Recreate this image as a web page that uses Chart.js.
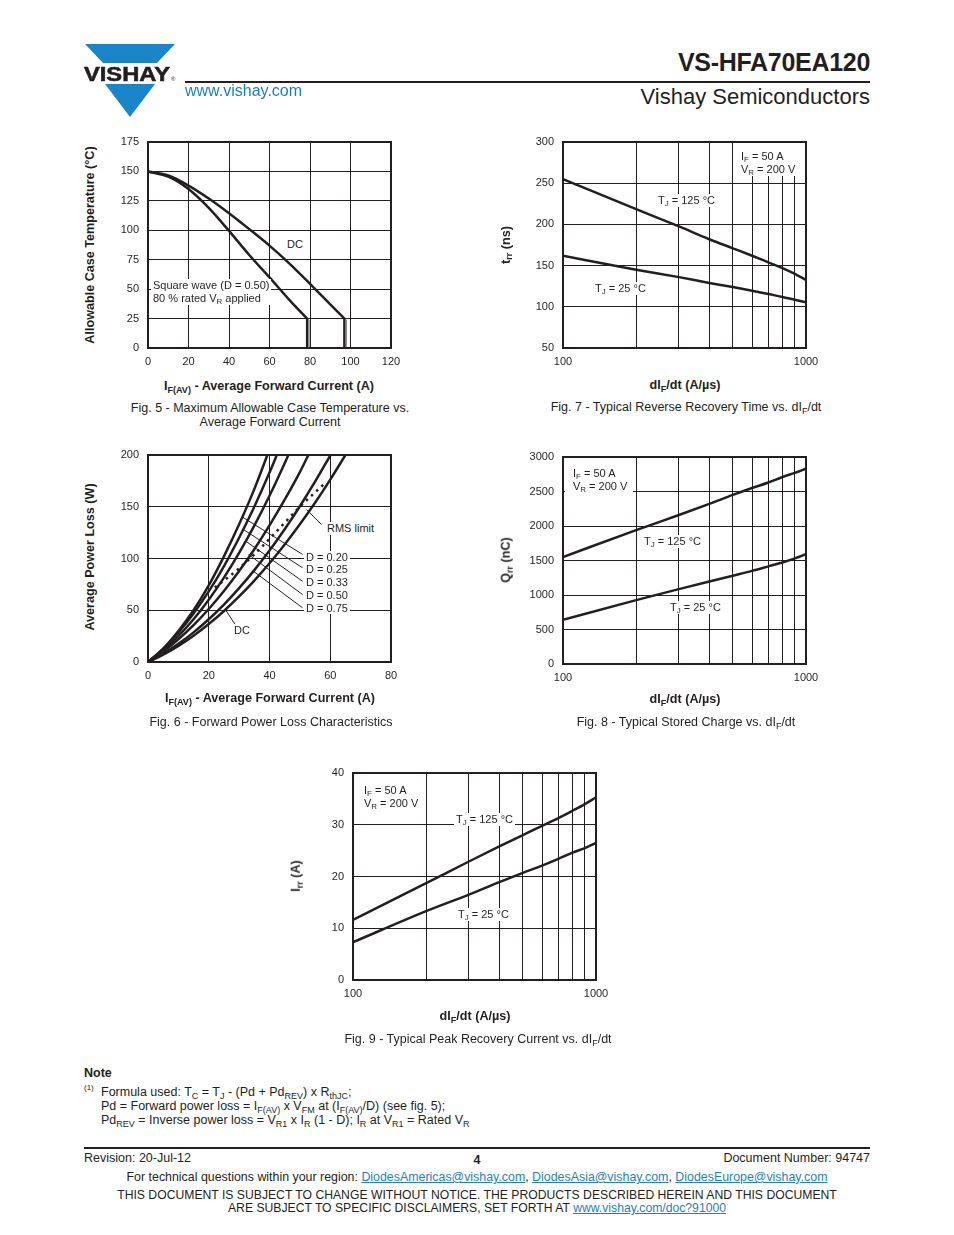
<!DOCTYPE html>
<html><head><meta charset="utf-8">
<script src="https://cdn.jsdelivr.net/npm/chart.js@4.4.1/dist/chart.umd.min.js"></script>
<style>
html,body{margin:0;padding:0;background:#fff;}
body{width:954px;height:1235px;position:relative;overflow:hidden;font-family:"Liberation Sans",Arial,Helvetica,sans-serif;color:#231f20;}
canvas{position:absolute;}
.a{position:absolute;white-space:nowrap;line-height:1;z-index:2;}
.c{transform:translateX(-50%);}
.r{transform:translateX(-100%);}
.lbl{position:absolute;white-space:nowrap;font-size:11px;line-height:13px;background:#fff;padding:0 2px;z-index:2;}
.box{position:absolute;white-space:nowrap;font-size:11px;line-height:13px;background:#fff;z-index:2;box-sizing:border-box;}
sub{font-size:0.72em;vertical-align:-0.28em;line-height:0;}
sup{font-size:0.7em;vertical-align:0.5em;line-height:0;}
.yt{position:absolute;font-weight:bold;font-size:12.6px;line-height:1;transform:translate(-50%,-50%) rotate(-90deg);white-space:nowrap;z-index:2;}
.xt{font-weight:bold;font-size:12.6px;}
.cap{font-size:12.5px;}
a.lk{color:#1f7fc4;text-decoration:underline;}
</style>
</head><body>
<canvas id="c5"></canvas><canvas id="c6"></canvas><canvas id="c7"></canvas><canvas id="c8"></canvas><canvas id="c9"></canvas>

<!-- Header -->
<svg style="position:absolute;left:0;top:0;z-index:2" width="200" height="125">
  <polygon points="85,44 175,44 157,63 103,63" fill="#1a86c8"/>
  <polygon points="105,84 155,84 130,117" fill="#1a86c8"/>
  <text x="84" y="81" font-family="Liberation Sans, Arial, sans-serif" font-weight="bold" font-size="20" fill="#231f20" stroke="#231f20" stroke-width="0.6" textLength="86" lengthAdjust="spacingAndGlyphs">VISHAY</text>
  <text x="171" y="81" font-family="Liberation Sans, Arial, sans-serif" font-size="6" fill="#231f20">®</text>
</svg>
<div class="a" style="left:185px;top:83px;font-size:16px;color:#1a7fc2;">www.vishay.com</div>
<div style="position:absolute;left:185px;top:81px;width:685px;height:2px;background:#231f20;"></div>
<div class="a r" style="left:870px;top:50px;font-size:25px;font-weight:bold;letter-spacing:-0.3px;">VS-HFA70EA120</div>
<div class="a r" style="left:870px;top:86px;font-size:22px;">Vishay Semiconductors</div>

<!-- Fig 5 texts -->
<div class="yt" style="left:90px;top:245px;">Allowable Case Temperature (°C)</div>
<div class="a c xt" style="left:269px;top:380px;">I<sub>F(AV)</sub> - Average Forward Current (A)</div>
<div class="a c cap" style="left:270px;top:401px;text-align:center;line-height:14px;">Fig. 5 - Maximum Allowable Case Temperature vs.<br>Average Forward Current</div>
<div class="lbl" style="left:285px;top:237.5px;">DC</div>
<div class="lbl" style="left:151px;top:278.5px;">Square wave (D = 0.50)<br>80 % rated V<sub>R</sub> applied</div>

<!-- Fig 6 texts -->
<div class="yt" style="left:90px;top:557px;">Average Power Loss (W)</div>
<div class="a c xt" style="left:270px;top:692px;">I<sub>F(AV)</sub> - Average Forward Current (A)</div>
<div class="a c cap" style="left:271px;top:716px;">Fig. 6 - Forward Power Loss Characteristics</div>
<div class="lbl" style="left:325px;top:521.5px;">RMS limit</div>
<div class="lbl" style="left:304px;top:550.5px;line-height:12.75px;">D = 0.20<br>D = 0.25<br>D = 0.33<br>D = 0.50<br>D = 0.75</div>
<div class="lbl" style="left:232px;top:623.5px;">DC</div>

<!-- Fig 7 texts -->
<div class="yt" style="left:506px;top:245px;">t<sub>rr</sub> (ns)</div>
<div class="a c xt" style="left:685px;top:379px;">dI<sub>F</sub>/dt (A/µs)</div>
<div class="a c cap" style="left:686px;top:401px;">Fig. 7 - Typical Reverse Recovery Time vs. dI<sub>F</sub>/dt</div>
<div class="box" style="left:735px;top:143px;width:70px;height:33px;padding:6.5px 0 0 6px;">I<sub>F</sub> = 50 A<br>V<sub>R</sub> = 200 V</div>
<div class="lbl" style="left:656px;top:193.5px;">T<sub>J</sub> = 125 °C</div>
<div class="lbl" style="left:593px;top:281.5px;">T<sub>J</sub> = 25 °C</div>

<!-- Fig 8 texts -->
<div class="yt" style="left:506px;top:560px;">Q<sub>rr</sub> (nC)</div>
<div class="a c xt" style="left:685px;top:693px;">dI<sub>F</sub>/dt (A/µs)</div>
<div class="a c cap" style="left:686px;top:716px;">Fig. 8 - Typical Stored Charge vs. dI<sub>F</sub>/dt</div>
<div class="box" style="left:565px;top:459px;width:68px;height:34px;padding:7.5px 0 0 8px;">I<sub>F</sub> = 50 A<br>V<sub>R</sub> = 200 V</div>
<div class="lbl" style="left:642px;top:534.5px;">T<sub>J</sub> = 125 °C</div>
<div class="lbl" style="left:668px;top:600.5px;">T<sub>J</sub> = 25 °C</div>

<!-- Fig 9 texts -->
<div class="yt" style="left:296px;top:876px;">I<sub>rr</sub> (A)</div>
<div class="a c xt" style="left:475px;top:1010px;">dI<sub>F</sub>/dt (A/µs)</div>
<div class="a c cap" style="left:478px;top:1033px;">Fig. 9 - Typical Peak Recovery Current vs. dI<sub>F</sub>/dt</div>
<div class="box" style="left:355px;top:775px;width:70px;height:36px;padding:8.5px 0 0 9px;">I<sub>F</sub> = 50 A<br>V<sub>R</sub> = 200 V</div>
<div class="lbl" style="left:454px;top:812.5px;">T<sub>J</sub> = 125 °C</div>
<div class="lbl" style="left:456px;top:907.5px;">T<sub>J</sub> = 25 °C</div>

<!-- Note -->
<div class="a" style="left:84px;top:1067px;font-size:12.5px;font-weight:bold;">Note</div>
<div class="a" style="left:84px;top:1084px;font-size:8px;">(1)</div>
<div class="a" style="left:101px;top:1085px;font-size:12.5px;line-height:14px;">Formula used: T<sub>C</sub> = T<sub>J</sub> - (Pd + Pd<sub>REV</sub>) x R<sub>thJC</sub>;<br>Pd = Forward power loss = I<sub>F(AV)</sub> x V<sub>FM</sub> at (I<sub>F(AV)</sub>/D) (see fig. 5);<br>Pd<sub>REV</sub> = Inverse power loss = V<sub>R1</sub> x I<sub>R</sub> (1 - D); I<sub>R</sub> at V<sub>R1</sub> = Rated V<sub>R</sub></div>

<!-- Footer -->
<div style="position:absolute;left:84px;top:1147px;width:786px;height:2px;background:#231f20;"></div>
<div class="a" style="left:84px;top:1152px;font-size:12.5px;">Revision: 20-Jul-12</div>
<div class="a c" style="left:477px;top:1154px;font-size:12.5px;font-weight:bold;">4</div>
<div class="a r" style="left:870px;top:1152px;font-size:12.5px;">Document Number: 94747</div>
<div class="a c" style="left:477px;top:1171px;font-size:12.4px;">For technical questions within your region: <a class="lk">DiodesAmericas@vishay.com</a>, <a class="lk">DiodesAsia@vishay.com</a>, <a class="lk">DiodesEurope@vishay.com</a></div>
<div class="a c" style="left:477px;top:1189px;font-size:12.2px;text-align:center;line-height:13px;">THIS DOCUMENT IS SUBJECT TO CHANGE WITHOUT NOTICE. THE PRODUCTS DESCRIBED HEREIN AND THIS DOCUMENT<br>ARE SUBJECT TO SPECIFIC DISCLAIMERS, SET FORTH AT <a class="lk">www.vishay.com/doc?91000</a></div>

<script>
// ===== DATA =====
// Fig. 5: allowable case temperature vs average forward current
const fig5XTicks = [0, 20, 40, 60, 80, 100, 120];
const fig5YTicks = [0, 25, 50, 75, 100, 125, 150, 175];
const fig5DC = [[0,150],[10,146.5],[20,138],[30,127],[40,114.5],[50,101],[60,87],[70,71.5],[80,54.5],[90,37],[97,25]];
const fig5DCDrop = [[97,25],[97,0]];
const fig5DCDropShade = [[97.9,24],[97.9,0]];
const fig5SQ = [[0,150],[10,145.5],[20,135],[30,119],[40,99.5],[50,79],[60,60],[70,40.5],[78.6,25]];
const fig5SQDrop = [[78.6,25],[78.6,0]];
const fig5SQDropShade = [[79.5,24],[79.5,0]];

// Fig. 6: forward power loss characteristics
const fig6XTicks = [0, 20, 40, 60, 80];
const fig6YTicks = [0, 50, 100, 150, 200];
const fig6D020 = [[0,0],[5,13],[10,30],[15,50],[20,74],[25,102],[30,133],[35,167],[39.3,200]];
const fig6D025 = [[0,0],[5,12.7],[10,28.3],[15,46.8],[20,68.2],[25,92.5],[30,120],[35,150],[40,183],[42.4,200]];
const fig6D033 = [[0,0],[5,11.3],[10,25],[15,41.3],[20,60.2],[25,81.5],[30,105.4],[35,131.7],[40,160.6],[45,192],[46.2,200]];
const fig6D050 = [[0,0],[5,10],[10,21.9],[15,35.6],[20,51.2],[25,68.6],[30,87.9],[35,109],[40,132],[45,156.8],[50,183.5],[52.8,200]];
const fig6D075 = [[0,0],[5,8],[10,17.5],[15,28.6],[20,41.3],[25,55.5],[30,71.4],[35,88.8],[40,107.8],[45,128.3],[50,150.5],[55,174.2],[60.1,200]];
const fig6DC = [[0,0],[5,7.1],[10,15.6],[15,25.4],[20,36.7],[25,49.3],[30,63.3],[35,78.7],[40,95.4],[45,113.6],[50,133.1],[55,153.9],[60,176.2],[65,200]];
const fig6RMS = [[22,72],[29,88],[35,104],[41,122],[50,150],[58.7,174]];
const fig6Leaders = [
  [[31.1,140],[50.9,103.9]],
  [[31.4,128],[50.9,91]],
  [[32.2,116.7],[50.9,78]],
  [[33.1,103.9],[50.9,65.1]],
  [[34.7,87.7],[50.9,52.3]],
  [[25.5,50.6],[28.7,36.1]],
  [[52.2,147.4],[57.1,132.9]]
];

// Fig. 7-9: common dIF/dt axis (log)
const dIdt = [100, 200, 300, 400, 500, 600, 700, 800, 900, 1000];
const logLabels = [100, 1000];
// Fig. 7: trr (ns)
const fig7YTicks = [50, 100, 150, 200, 250, 300];
const trr125 = [255, 218.5, 197.5, 182, 171, 162, 154, 147, 140, 132.5];
const trr25 = [162, 145, 136, 129, 124, 119.5, 115.5, 112, 108.5, 105.5];
// Fig. 8: Qrr (nC)
const fig8YTicks = [0, 500, 1000, 1500, 2000, 2500, 3000];
const qrr125 = [1550, 1940, 2160, 2320, 2450, 2550, 2630, 2710, 2770, 2830];
const qrr25 = [640, 926, 1085, 1196, 1280, 1350, 1415, 1471, 1530, 1590];
// Fig. 9: Irr (A)
const fig9YTicks = [0, 10, 20, 30, 40];
const irr125 = [11.6, 18.7, 22.9, 25.8, 28.0, 29.8, 31.3, 32.7, 34.0, 35.3];
const irr25 = [7.3, 13.3, 16.5, 18.9, 20.7, 22.1, 23.4, 24.6, 25.5, 26.5];

// ===== RENDERING =====
const INK = '#231f20';
const FONT = {family: '"Liberation Sans", Arial, Helvetica, sans-serif', size: 11};
const AXW = 50, PT = 20, PR = 26, AXH = 30;

const frame = {
  id: 'frame',
  afterDatasetsDraw(c) {
    const a = c.chartArea, x = c.ctx;
    x.save(); x.lineWidth = 2; x.strokeStyle = INK;
    x.strokeRect(a.left, a.top, a.right - a.left, a.bottom - a.top);
    x.restore();
  }
};

const pts = arr => arr.map(([x, y]) => ({x, y}));
const pair = (xs, ys) => xs.map((x, i) => ({x, y: ys[i]}));

function curve(data, extra) {
  return Object.assign({data, showLine: true, borderColor: INK, borderWidth: 2.5, pointRadius: 0,
    fill: false, cubicInterpolationMode: 'monotone', borderCapStyle: 'butt'}, extra || {});
}
function straight(data, w, col) {
  return {data, showLine: true, borderColor: col || INK, borderWidth: w, pointRadius: 0, fill: false, tension: 0};
}

function linAxis(ticksArr, pad) {
  return {
    type: 'linear', min: ticksArr[0], max: ticksArr[ticksArr.length - 1],
    afterBuildTicks: s => { s.ticks = ticksArr.map(v => ({value: v})); },
    ticks: {color: INK, font: FONT, padding: pad, autoSkip: false, maxRotation: 0, callback: v => String(v)},
    grid: {color: INK, lineWidth: 1, drawTicks: false},
    border: {display: false}
  };
}
function logAxis(gridVals, labelVals, pad) {
  return {
    type: 'logarithmic', min: gridVals[0], max: gridVals[gridVals.length - 1],
    afterBuildTicks: s => { s.ticks = gridVals.map(v => ({value: v})); },
    ticks: {color: INK, font: FONT, padding: pad, autoSkip: false, maxRotation: 0,
      callback: v => labelVals.includes(v) ? String(v) : ''},
    grid: {color: INK, lineWidth: 1, drawTicks: false},
    border: {display: false}
  };
}

function mk(id, plot, xs, ys, datasets) {
  const w = AXW + plot.R - plot.L + PR, h = PT + plot.B - plot.T + AXH;
  const cv = document.getElementById(id);
  cv.width = w; cv.height = h;
  cv.style.left = (plot.L - AXW) + 'px'; cv.style.top = (plot.T - PT) + 'px';
  cv.style.width = w + 'px'; cv.style.height = h + 'px';
  xs.afterFit = s => { s.height = AXH; };
  ys.afterFit = s => { s.width = AXW; };
  return new Chart(cv, {
    type: 'scatter',
    data: {datasets},
    options: {
      responsive: false, animation: false, devicePixelRatio: 1,
      layout: {padding: {top: PT, right: PR, left: 0, bottom: 0}},
      plugins: {legend: {display: false}, tooltip: {enabled: false}},
      scales: {x: xs, y: ys}
    },
    plugins: [frame]
  });
}

// Fig. 5
mk('c5', {L: 148, T: 142, R: 391, B: 348}, linAxis(fig5XTicks, 7), linAxis(fig5YTicks, 9), [
  curve(pts(fig5DC)), curve(pts(fig5SQ)),
  straight(pts(fig5DCDropShade), 1.5, '#8a8a8a'), straight(pts(fig5SQDropShade), 1.5, '#8a8a8a'),
  straight(pts(fig5DCDrop), 2.5), straight(pts(fig5SQDrop), 2.5)
]);

// Fig. 6
mk('c6', {L: 148, T: 455, R: 391, B: 662}, linAxis(fig6XTicks, 7), linAxis(fig6YTicks, 9), [
  curve(pts(fig6D020)), curve(pts(fig6D025)), curve(pts(fig6D033)),
  curve(pts(fig6D050)), curve(pts(fig6D075)), curve(pts(fig6DC)),
  curve(pts(fig6RMS), {borderDash: [2.5, 4.5], borderWidth: 2.5}),
  ...fig6Leaders.map(l => straight(pts(l), 1))
]);

// Fig. 7
mk('c7', {L: 563, T: 142, R: 806, B: 348}, logAxis(dIdt, logLabels, 7), linAxis(fig7YTicks, 9), [
  curve(pair(dIdt, trr125)), curve(pair(dIdt, trr25))
]);

// Fig. 8
mk('c8', {L: 563, T: 457, R: 806, B: 664}, logAxis(dIdt, logLabels, 7), linAxis(fig8YTicks, 9), [
  curve(pair(dIdt, qrr125)), curve(pair(dIdt, qrr25))
]);

// Fig. 9
mk('c9', {L: 353, T: 773, R: 596, B: 980}, logAxis(dIdt, logLabels, 7), linAxis(fig9YTicks, 9), [
  curve(pair(dIdt, irr125)), curve(pair(dIdt, irr25))
]);
</script>
</body></html>
